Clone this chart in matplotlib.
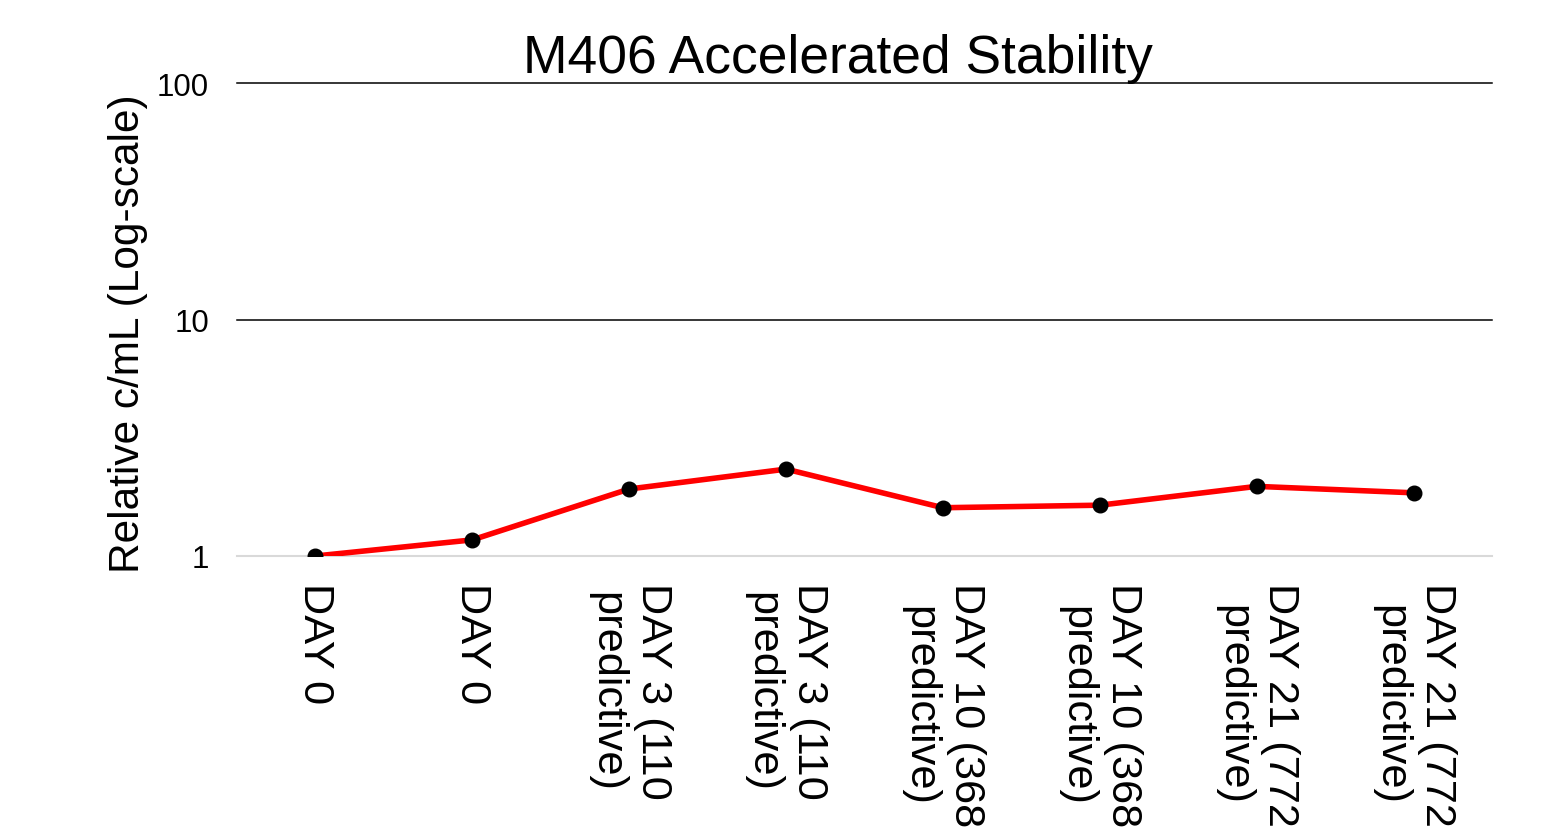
import matplotlib
matplotlib.use("Agg")
import matplotlib.pyplot as plt
from matplotlib.ticker import NullLocator, FixedLocator, FixedFormatter

plt.rcParams['font.family'] = ['Liberation Sans', 'DejaVu Sans']

categories = [
    "DAY 0",
    "DAY 0",
    "DAY 3 (110\npredictive)",
    "DAY 3 (110\npredictive)",
    "DAY 10 (368\npredictive)",
    "DAY 10 (368\npredictive)",
    "DAY 21 (772\npredictive)",
    "DAY 21 (772\npredictive)",
]
relative_cml = [1.0, 1.17, 1.92, 2.33, 1.60, 1.64, 1.97, 1.85]
y_ticks = [1, 10, 100]
y_tick_labels = ["1", "10", "100"]

W, H = 1550, 829
fig = plt.figure(figsize=(W / 100, H / 100), dpi=100)
ax = fig.add_axes([237 / W, 1 - 557 / H, (1492 - 237) / W, (557 - 84) / H])

x = list(range(len(categories)))
ax.plot(x, relative_cml, color="#FF0000", linewidth=4, zorder=3,
        marker="o", markersize=10.5, markerfacecolor="black",
        markeredgecolor="black")

ax.set_yscale("log")
ax.set_ylim(1, 100)
ax.set_xlim(-0.5, len(categories) - 0.5)
ax.yaxis.set_major_locator(FixedLocator(y_ticks))
ax.yaxis.set_major_formatter(FixedFormatter(y_tick_labels))
ax.yaxis.set_minor_locator(NullLocator())

# horizontal gridlines
for v in y_ticks[1:]:
    ax.axhline(v, color="black", linewidth=1.1, zorder=1, clip_on=False)
ax.axhline(1, color="#D9D9D9", linewidth=1.5, zorder=1, clip_on=False)

for s in ax.spines.values():
    s.set_visible(False)

ax.set_xticks(x)
ax.set_xticklabels(categories, rotation=270, ha="center", va="top",
                   multialignment="center", fontsize=31.2, linespacing=1.22)
ax.tick_params(axis="x", length=0, pad=19)
ax.tick_params(axis="y", length=0, pad=20, labelsize=22.5)

fig.text(128 / W, 1 - 334 / H, "Relative c/mL (Log-scale)", rotation=90,
         ha="center", va="center", fontsize=30.5)
fig.text(838 / W, 1 - 73 / H, "M406 Accelerated Stability",
         ha="center", va="baseline", fontsize=38.4)

fig.savefig("out.png", dpi=100)
